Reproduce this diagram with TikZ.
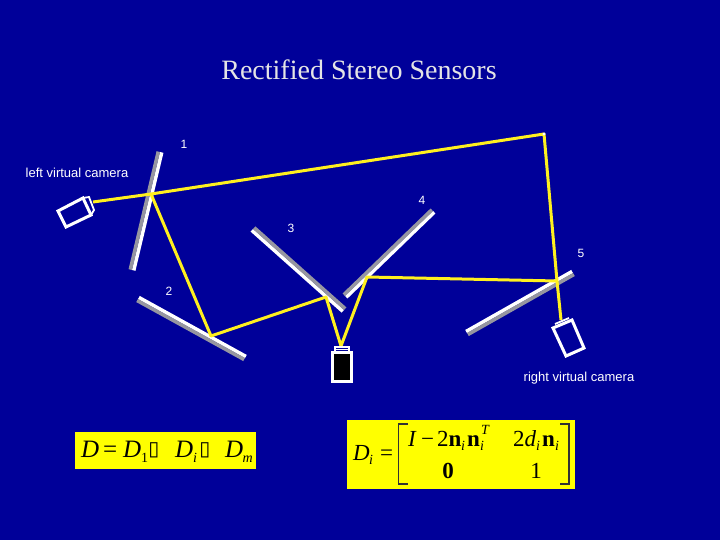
\documentclass[tikz,border=0pt]{standalone}
\usepackage{fontspec}
\setmainfont{Liberation Serif}
\setsansfont{Liberation Sans}
\newfontfamily\boxfont{DejaVu Sans}
\usetikzlibrary{calc}
\definecolor{bgblue}{RGB}{0,0,153}
\definecolor{ray}{RGB}{255,240,30}
\definecolor{mgray}{RGB}{150,150,160}
\definecolor{eqyellow}{RGB}{255,255,0}
\tikzset{
  lab/.style={font=\sffamily\fontsize{12}{12}\selectfont,text=white,inner sep=0pt},
  boldlab/.style={font=\sffamily\fontsize{13}{13}\selectfont,text=white,inner sep=0pt},
  raypath/.style={draw=ray,line width=3pt,line join=round},
  frame/.style={draw=white,line width=3pt,line join=miter},
  mw/.style={white,line width=3.6pt},
  mg/.style={mgray,line width=3.6pt},
  eqbox/.style={fill=eqyellow,draw=none},
  eq/.style={inner sep=0pt,anchor=base west,text=black,font=\fontsize{25}{25}\selectfont},
  eqm/.style={eq,font=\fontsize{23}{23}\selectfont},
  eqs/.style={inner sep=0pt,anchor=base west,text=black,font=\fontsize{14}{14}\selectfont},
  glyphbox/.style={inner sep=0pt,anchor=base,text=black,font=\boxfont\fontsize{20}{20}\selectfont},
  bracket/.style={draw=black!80,line width=1.4pt}
}
\begin{document}
\begin{tikzpicture}[x=1pt,y=-1pt]
\fill[bgblue] (0,0) rectangle (720,540);
\useasboundingbox (0,0) rectangle (720,540);

\node[inner sep=0pt,text=black!10,font=\fontsize{28}{28}\selectfont] (title) at (359,70) {Rectified Stereo Sensors};

% mirror end points
\coordinate (m1a) at (132,270); \coordinate (m1b) at (160,152);
\coordinate (m2a) at (245,358); \coordinate (m2b) at (138,299);
\coordinate (m3a) at (344,310); \coordinate (m3b) at (253,229);
\coordinate (m4a) at (345,296); \coordinate (m4b) at (433,211);
\coordinate (m5a) at (467,333); \coordinate (m5b) at (573,273);

% white on one side, grey on the other
\draw[mw] ($(m1a)+(1.7,0.4)$) -- ($(m1b)+(1.7,0.4)$);
\draw[mg] ($(m1a)+(-1.7,-0.4)$) -- ($(m1b)+(-1.7,-0.4)$);
\draw[mw] ($(m2a)+(0.9,-1.5)$) -- ($(m2b)+(0.9,-1.5)$);
\draw[mg] ($(m2a)+(-0.9,1.5)$) -- ($(m2b)+(-0.9,1.5)$);
\draw[mw] ($(m3a)+(-1.2,1.3)$) -- ($(m3b)+(-1.2,1.3)$);
\draw[mg] ($(m3a)+(1.2,-1.3)$) -- ($(m3b)+(1.2,-1.3)$);
\draw[mw] ($(m4a)+(1.2,1.2)$) -- ($(m4b)+(1.2,1.2)$);
\draw[mg] ($(m4a)+(-1.2,-1.2)$) -- ($(m4b)+(-1.2,-1.2)$);
\draw[mw] ($(m5a)+(-0.9,-1.5)$) -- ($(m5b)+(-0.9,-1.5)$);
\draw[mg] ($(m5a)+(0.9,1.5)$) -- ($(m5b)+(0.9,1.5)$);

% ray points
\coordinate (rL) at (93,202);
\coordinate (r1) at (151,194);
\coordinate (rC) at (544,134);
\coordinate (r5) at (557,281);
\coordinate (rR) at (561,320);
\coordinate (r4) at (367,277);
\coordinate (rM) at (341,346);
\coordinate (r3) at (326,297);
\coordinate (r2) at (211,336);
\draw[raypath] (rL) -- (r1) -- (rC) -- (r5) -- (rR);
\draw[raypath] (r5) -- (r4) -- (rM) -- (r3) -- (r2) -- (r1);
\fill[white] (rC) circle (1.6pt);

% left camera
\draw[frame] (58,211) -- (83,198) -- (91,215) -- (66,227) -- cycle;
\draw[white,line width=1.8pt] (83,198) -- (89,197) -- (94,210) -- (91,215);
% right camera
\draw[frame] (553,328) -- (572,320) -- (584,348) -- (566,356) -- cycle;
\draw[white,line width=1.8pt] (555,324) -- (569,318);
% centre camera
\draw[frame,fill=black] (332.5,352) rectangle (351,381);
\draw[white,line width=1.8pt,fill=bgblue] (335,351) -- (335,347) -- (349,347) -- (349,351);
\draw[white,line width=1.4pt] (335,349.5) -- (349,349.5);

% labels
\node[lab] (n1) at (184,144) {1};
\node[lab] (n2) at (169,291) {2};
\node[lab] (n3) at (291,228) {3};
\node[lab] (n4) at (422,200) {4};
\node[lab] (n5) at (581,253) {5};
\node[boldlab] (lv) at (77,172.5) {left virtual camera};
\node[boldlab] (rv) at (579,378.5) {right virtual camera};

% first equation
\fill[eqbox] (75,432) rectangle (256,469);
\node[eq] (a1) at (81,457) {\itshape D};
\node[eq] (a2) at (103,457) {=};
\node[eq] (a3) at (123,457) {\itshape D};
\node[eqs] (a4) at (141,462) {1};
\node[glyphbox] (a5) at (154,455) {▯};
\node[eq] (a6) at (175,457) {\itshape D};
\node[eqs] (a7) at (193,462) {\itshape i};
\node[glyphbox] (a8) at (205,455) {▯};
\node[eq] (a9) at (225,457) {\itshape D};
\node[eqs] (a10) at (242.5,462) {\itshape m};

% second equation
\fill[eqbox] (347,420) rectangle (575,489);
\node[eqm] (b1) at (353,460) {\itshape D};
\node[eqs] (b2) at (369,464) {\itshape i};
\node[eqm] (b3) at (380,460) {=};
\draw[bracket] (408,424) -- (398.5,424) -- (398.5,484) -- (408,484);
\draw[bracket] (560,424) -- (569,424) -- (569,484) -- (560,484);
\node[eqm] (c1) at (408,446) {\itshape I};
\node[eqm] (c2) at (421,446) {−};
\node[eqm] (c3) at (437,446) {2\textbf{n}};
\node[eqs] (c4) at (461,450) {\itshape i};
\node[eqm] (c5) at (467,446) {\textbf{n}};
\node[eqs] (c6) at (480,450) {\itshape i};
\node[eqs] (c7) at (481,434) {\itshape T};
\node[eqm] (c8) at (513,446) {2\itshape d};
\node[eqs] (c9) at (536,450) {\itshape i};
\node[eqm] (c10) at (542,446) {\textbf{n}};
\node[eqs] (c11) at (555,450) {\itshape i};
\node[eqm,anchor=base,font=\bfseries\fontsize{23}{23}\selectfont] (d1) at (448,478) {0};
\node[eqm,anchor=base] (d2) at (536,478) {1};
\end{tikzpicture}
\end{document}
